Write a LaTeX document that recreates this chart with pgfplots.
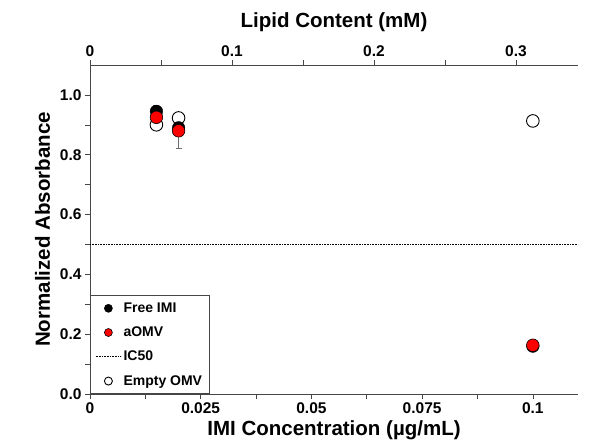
\documentclass[border=0pt]{standalone}
\usepackage{pgfplots}
\pgfplotsset{compat=1.18}
\usepackage{fontspec}
\setmainfont{Liberation Sans}

\definecolor{axgray}{RGB}{70,70,70}
\definecolor{errgray}{RGB}{110,110,110}

\newcommand{\tickfont}{\fontsize{15.5}{18}\selectfont\bfseries}

\pgfplotsset{
  long line legend/.style={
    legend image code/.code={\draw[##1] (-0.15cm,0cm) -- (0.75cm,0cm);}
  }
}

\begin{document}
\begin{tikzpicture}
\pgfplotsset{
  every axis/.append style={
    scale only axis, width=488pt, height=329pt,
    axis line style={axgray, line width=0.8pt},
    every tick/.style={axgray, line width=0.6pt},
    tick align=outside, major tick length=5pt, minor tick length=5pt,
    /pgf/number format/assume math mode=true,
    label style={font=\fontsize{20.5}{24}\selectfont\bfseries},
  }
}
% top axis: lipid content
\begin{axis}[
  xmin=0, xmax=0.3437, ymin=0, ymax=1.1,
  axis x line*=top, axis y line=none,
  xtick={0,0.1,0.2,0.3}, minor xtick={0.05,0.15,0.25},
  xticklabel style={font=\tickfont, /pgf/number format/fixed},
  xlabel={Lipid Content (mM)},
  xlabel style={yshift=7pt},
]
\addplot[draw=none] coordinates {(0,0)};
\end{axis}
% main axis
\begin{axis}[
  name=ax,
  xmin=0, xmax=0.1102, ymin=0, ymax=1.1,
  axis x line*=bottom, axis y line*=left,
  xtick={0,0.025,0.05,0.075,0.1}, minor xtick={0.0125,0.0375,0.0625,0.0875},
  ytick={0,0.2,0.4,0.6,0.8,1.0}, minor ytick={0.1,0.3,0.5,0.7,0.9},
  xticklabel style={font=\tickfont, /pgf/number format/fixed, /pgf/number format/precision=3},
  yticklabel style={font=\tickfont, /pgf/number format/fixed, /pgf/number format/fixed zerofill, /pgf/number format/precision=1},
  xlabel={IMI Concentration (µg/mL)},
  ylabel={Normalized Absorbance},
  xlabel style={yshift=0pt},
  ylabel style={yshift=3pt},
  legend style={at={(0,0)}, anchor=south west, draw=axgray, line width=0.6pt,
    font=\fontsize{14}{16}\selectfont\bfseries, row sep=9pt,
    inner xsep=5pt, inner ysep=5pt},
  legend cell align=left,
  legend image post style={mark size=4pt},
]
% Empty OMV (drawn first, listed last)
\addplot[only marks, mark=*, mark size=6.3pt, mark options={fill=white, draw=black, line width=0.9pt}, forget plot]
  coordinates {(0.015,0.900) (0.02,0.923) (0.1,0.913)};
% Free IMI
\addplot[only marks, mark=*, mark size=6.3pt, mark options={fill=black, draw=black},
  error bars/.cd, y dir=both, y explicit, error bar style={errgray, line width=0.6pt},
  error mark options={rotate=90, errgray, mark size=3pt}]
  coordinates {(0.015,0.945) +- (0,0.022) (0.02,0.890) +- (0,0.01) (0.1,0.160) +- (0,0.01)};
\addlegendentry{Free IMI}
% aOMV
\addplot[only marks, mark=*, mark size=6.3pt, mark options={fill=red, draw=black, line width=0.6pt},
  error bars/.cd, y dir=both, y explicit, error bar style={errgray, line width=0.6pt},
  error mark options={rotate=90, errgray, mark size=3pt}]
  coordinates {(0.015,0.925) +- (0,0.01) (0.02,0.880) +- (0,0.057) (0.1,0.163) +- (0,0.01)};
\addlegendentry{aOMV}
% IC50
\addplot[black, densely dotted, line width=0.6pt, long line legend]
  coordinates {(0,0.5) (0.1102,0.5)};
\addlegendentry{IC50}
\addlegendimage{only marks, mark=*, mark options={fill=white, draw=black, line width=0.9pt}}
\addlegendentry{Empty OMV}
\end{axis}
\path ([shift={(-90pt,-50pt)}]ax.south west) rectangle ([shift={(13pt,65pt)}]ax.north east);
\end{tikzpicture}
\end{document}
